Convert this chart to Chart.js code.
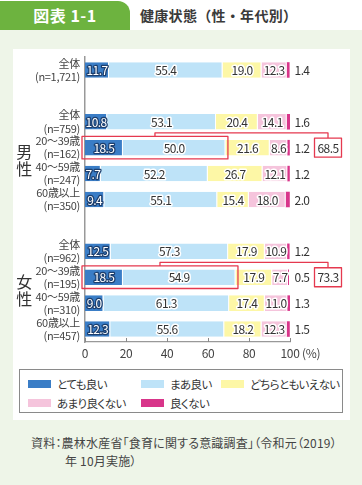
<!DOCTYPE html>
<html lang="ja">
<head>
<meta charset="utf-8">
<script src="https://cdn.jsdelivr.net/npm/chart.js@4/dist/chart.umd.min.js"></script>
<style>
  html,body{margin:0;padding:0;}
  body{width:362px;height:485px;position:relative;overflow:hidden;background:#eef5e8;font-family:"Noto Sans CJK JP","Noto Sans",sans-serif;color:#333;}
  #head{position:absolute;left:0;top:0;width:362px;height:30px;background:#fff;}
  #tab{position:absolute;left:0;top:1px;width:130px;height:29px;background:#6db33f;border-top-right-radius:12px;color:#fff;font-weight:bold;font-size:16px;line-height:29px;text-align:center;letter-spacing:0.5px;}
  #title{position:absolute;left:140px;top:0;height:30px;line-height:30px;font-size:14px;font-weight:bold;color:#3a3a3a;letter-spacing:0.3px;}
  #panel{position:absolute;left:13px;top:49px;width:337px;height:371px;background:#fff;}
  #legend{position:absolute;left:19px;top:369px;width:322px;height:42px;border:1px solid #8a8a8a;background:#fff;}
  .li{position:absolute;font-size:11.5px;line-height:14px;color:#333;white-space:nowrap;font-feature-settings:"palt";letter-spacing:-0.6px;}
  .sw{display:inline-block;width:23px;height:8px;margin-right:6px;vertical-align:1px;}
  #src{position:absolute;left:31px;top:434px;font-size:12px;line-height:18px;color:#444;white-space:nowrap;font-feature-settings:"palt";letter-spacing:0.2px;}
  #cv{position:absolute;left:0;top:0;}
</style>
</head>
<body>
<div id="head"><div id="tab">図表 1-1</div><div id="title">健康状態（性・年代別）</div></div>
<div id="panel"></div>
<div id="legend"></div>
<div id="src">資料：農林水産省「食育に関する意識調査」（令和元（2019）<br><span style="padding-left:34px">年 10月実施）</span></div>
<canvas id="cv" width="362" height="485"></canvas>
<script>
// ---- data ----
const categories = [
  ['全体','(n=1,721)'], '',
  ['全体','(n=759)'], ['20～39歳','(n=162)'], ['40～59歳','(n=247)'], ['60歳以上','(n=350)'], '',
  ['全体','(n=962)'], ['20～39歳','(n=195)'], ['40～59歳','(n=310)'], ['60歳以上','(n=457)']
];
const seriesNames = ['とても良い','まあ良い','どちらともいえない','あまり良くない','良くない'];
const veryGood    = [11.7, null, 10.8, 18.5,  7.7,  9.4, null, 12.5, 18.5,  9.0, 12.3];
const fairlyGood  = [55.4, null, 53.1, 50.0, 52.2, 55.1, null, 57.3, 54.9, 61.3, 55.6];
const neutral     = [19.0, null, 20.4, 21.6, 26.7, 15.4, null, 17.9, 17.9, 17.4, 18.2];
const notVeryGood = [12.3, null, 14.1,  8.6, 12.1, 18.0, null, 10.9,  7.7, 11.0, 12.3];
const notGood     = [ 1.4, null,  1.6,  1.2,  1.2,  2.0, null,  1.2,  0.5,  1.3,  1.5];
const highlightRows = [3, 8];
const highlightSums = [68.5, 73.3];
const groupNames = ['男性','女性'];
const groupRows = [[2,5],[7,10]];
const xTicks = [0,20,40,60,80,100];
const xUnit = '(%)';

const colors = ['#3a7dc6','#bee3f8','#fdf7a6','#f5c4dc','#d8358a'];
const seriesData = [veryGood, fairlyGood, neutral, notVeryGood, notGood];
const FONT = '"Noto Sans CJK JP","Noto Sans",sans-serif';

// HTML legend
const legendPos = [[8,7],[121,7],[201,7],[8,26],[121,26]];
const lg = document.getElementById('legend');
seriesNames.forEach((n,i)=>{
  const d=document.createElement('div');d.className='li';
  d.style.left=legendPos[i][0]+'px';d.style.top=legendPos[i][1]+'px';
  d.innerHTML='<span class="sw" style="background:'+colors[i]+'"></span>'+n;
  lg.appendChild(d);
});

const labelPlugin = {
  id:'labels',
  beforeDraw(chart){ try{chart.ctx.letterSpacing='-0.3px';}catch(e){} },
  afterDatasetsDraw(chart){
    const ctx=chart.ctx, xs=chart.scales.x, ys=chart.scales.y;
    ctx.save();
    ctx.font='12px '+FONT;
    ctx.textAlign='center';ctx.textBaseline='middle';
    try{ctx.letterSpacing='-0.6px';}catch(e){}
    ctx.lineJoin='round';
    chart.data.datasets.forEach((ds,di)=>{
      const meta=chart.getDatasetMeta(di);
      meta.data.forEach((bar,i)=>{
        const v=ds.data[i]; if(v==null) return;
        const t=v.toFixed(1);
        let x = di===4 ? xs.getPixelForValue(100)+12 : (bar.x+bar.base)/2;
        const y=bar.y+0.5;
        if(di===0){
          ctx.lineWidth=2.5;ctx.strokeStyle='#1d3f6e';ctx.strokeText(t,x,y);
          ctx.fillStyle='#fff';ctx.fillText(t,x,y);
        } else if(di===4){
          ctx.fillStyle='#333';ctx.fillText(t,x,y);
        } else {
          ctx.lineWidth=3;ctx.strokeStyle='#fff';ctx.strokeText(t,x,y);
          ctx.fillStyle='#333';ctx.fillText(t,x,y);
        }
      });
    });
    const m0=chart.getDatasetMeta(0), m1=chart.getDatasetMeta(1);
    highlightRows.forEach((r,k)=>{
      const b0=m0.data[r], b1=m1.data[r];
      const left=xs.getPixelForValue(0)-3, right=b1.x+2.5;
      const top=b0.y-b0.height/2-3.5, bot=b0.y+b0.height/2+3.5;
      ctx.strokeStyle='#e5394f';ctx.lineWidth=1.3;
      ctx.strokeRect(left,top,right-left,bot-top);
      const cx=xs.getPixelForValue(100)+38;
      const bw=27,bh=19, btop=b0.y-bh/2;
      const mid=(left+right)/2;
      ctx.beginPath();
      ctx.moveTo(mid,top);ctx.lineTo(mid,top-3.5);ctx.lineTo(cx,top-3.5);ctx.lineTo(cx,btop);
      ctx.stroke();
      ctx.fillStyle='#fff';ctx.fillRect(cx-bw/2,btop,bw,bh);
      ctx.strokeRect(cx-bw/2,btop,bw,bh);
      ctx.fillStyle='#333';ctx.fillText(highlightSums[k].toFixed(1),cx,b0.y+0.5);
    });
    ctx.restore();
  },
  afterDraw(chart){
    const ctx=chart.ctx, xs=chart.scales.x, ys=chart.scales.y;
    ctx.save();
    ctx.strokeStyle='#888';ctx.lineWidth=1;
    xTicks.forEach(v=>{
      const x=Math.round(xs.getPixelForValue(v))+0.5;
      ctx.beginPath();ctx.moveTo(x,xs.top);ctx.lineTo(x,xs.top-4);ctx.stroke();
    });
    ctx.font='12px '+FONT;ctx.fillStyle='#444';ctx.textAlign='left';ctx.textBaseline='middle';
    ctx.fillText(xUnit,xs.getPixelForValue(100)+12,xs.top+11);
    ctx.font='16px '+FONT;ctx.fillStyle='#333';ctx.textAlign='center';
    groupRows.forEach((g,k)=>{
      const mid=(ys.getPixelForValue(g[0])+ys.getPixelForValue(g[1]))/2;
      const chars=[...groupNames[k]];
      chars.forEach((c,j)=>ctx.fillText(c,24,mid+(j-(chars.length-1)/2)*17));
    });
    ctx.restore();
  }
};

new Chart(document.getElementById('cv'),{
  type:'bar',
  data:{
    labels:categories,
    datasets:seriesData.map((d,i)=>({
      label:seriesNames[i],data:d,backgroundColor:colors[i],
      borderColor:'#ffffff',borderWidth:{left:0,top:0,bottom:0,right:i===4?0:1},borderSkipped:false,
      barPercentage:0.6,categoryPercentage:1
    }))
  },
  options:{
    indexAxis:'y',responsive:false,animation:false,devicePixelRatio:1,
    layout:{padding:{left:0,right:72,top:57,bottom:123}},
    plugins:{legend:{display:false},tooltip:{enabled:false}},
    scales:{
      x:{stacked:true,min:0,max:100,
        afterBuildTicks(s){s.ticks=xTicks.map(v=>({value:v}));},
        afterFit(s){s.height=20;},
        grid:{display:false,drawTicks:false},
        border:{display:true,color:'#999',width:1.2},
        ticks:{padding:4,color:'#444',font:{family:FONT,size:12}}},
      y:{stacked:true,
        afterFit(s){s.width=85;},
        grid:{display:false,drawTicks:false},
        border:{display:true,color:'#999',width:1.5},
        ticks:{padding:5,color:'#444',font:{family:FONT,size:11,lineHeight:1.2},autoSkip:false}}
    }
  },
  plugins:[labelPlugin]
});
</script>
</body>
</html>
